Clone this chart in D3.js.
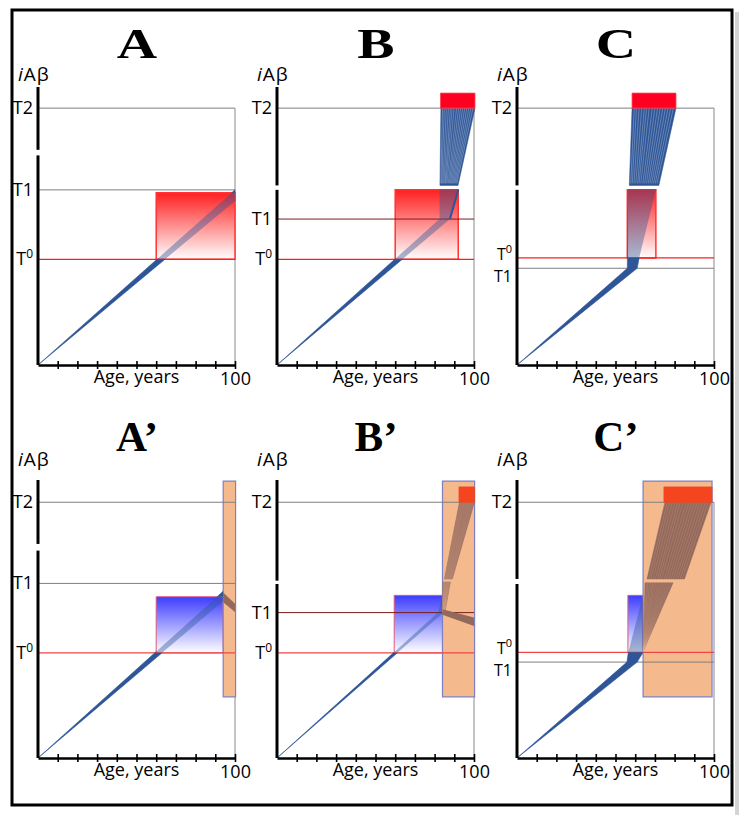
<!DOCTYPE html>
<html><head><meta charset="utf-8">
<script src="https://cdn.jsdelivr.net/npm/d3@7"></script>
<style>body{margin:0;background:#fff} svg{display:block}</style>
</head><body>
<script>
// ---------------- data ----------------
const panelLabels = ["A","B","C","A’","B’","C’"];
const thresholdT0 = [38, 38, 38.5, 37.8, 37.8, 38];
const thresholdT1 = [63, 52.5, 34.8, 62.8, 52.3, 34.5];
const thresholdT2 = [92.4, 92.4, 92.4, 92, 92, 92];
const axisBreak = [[75.4,77.4],[63,64.6],[63,64.6],[74.6,77],[62.6,63.8],[62.6,64.4]];
const tickAges = [10,20,30,40,50,60,70,80,90,100];
// trajectory band edges, [age, iAβ]
const bandFast = [
  [[0,0],[100,63]],
  [[0,0],[82.5,52.5],[82.5,63]],
  [[0,0],[56,34.8],[56.3,63]],
  [[0,0],[94,60]],
  [[0,0],[81.7,52.3],[84,58.5]],
  [[0,0],[55.8,34.5],[56.5,38],[64,58.5]]
];
const bandSlow = [
  [[0,0],[100,59]],
  [[0,0],[87.8,52.5],[92,63]],
  [[0,0],[61,34.8],[62,38.5],[70.5,63]],
  [[0,0],[94,56.5]],
  [[0,0],[84.5,52.3]],
  [[0,0],[61,34.5],[64,38],[64,58.5]]
];
// zone box [age0, age1, v0, v1]
const zoneBox = [[60,100,38,62],[60,92,38,63],[56,70.5,38.5,63],[60,94,37.8,58],[59.5,84,37.8,58.5],[56.3,64,38,58.5]];
// T2-reached boxes
const t2Box = [null,[83,100.5,92.4,97.8],[58.4,80.7,92.4,97.8],null,[92.4,100.3,92,97.5],[74.6,99,92,97.5]];
// treatment windows
const treatBox = [null,null,null,[94,100.3,22,99.6],[84,100.3,22,99.6],[64,99,22,99.6]];
// fans: panel, bottom v, bottom ages, top v, top ages
const fans = [
  {p:1, v0:64.6, a0:[82.7,91.9], v1:92.4, a1:[83.2,100.5]},
  {p:2, v0:64.6, a0:[57,72], v1:92.4, a1:[58.4,80.7]},
  {p:4, v0:52.3, a0:[84,85.2], v1:63.3, a1:[84.2,88]},
  {p:4, v0:64.4, a0:[85,89], v1:92, a1:[92.6,100.2]},
  {p:5, v0:38.3, a0:[64,64], v1:63, a1:[65,79.2]},
  {p:5, v0:64.4, a0:[66,85], v1:92, a1:[75.1,98.5]}
];
// declining branch under treatment
const declineBand = [
  {p:3, a:[94,100], hi:[59.5,55.5], lo:[56,52.5]},
  {p:4, a:[84,100], hi:[53.5,50.5], lo:[51.5,47.5]}
];
const stripeFrac = [0.05,0.1,0.16,0.22,0.28,0.33,0.39,0.46,0.52,0.58,0.64,0.7,0.76,0.82,0.88,0.94];

// ---------------- layout / style ----------------
const W=744,H=815;
const colX=[38,277,517], rowTop=[87,480];
const PW=197, PH=278;
const BLUE="#2d5597";
const svg=d3.select("body").append("svg").attr("width",W).attr("height",H);
const defs=svg.append("defs");
function grad(id,c){
  const g=defs.append("linearGradient").attr("id",id).attr("x1",0).attr("y1",0).attr("x2",0).attr("y2",1);
  g.append("stop").attr("offset",0).attr("stop-color",c);
  g.append("stop").attr("offset",1).attr("stop-color","#fff");
}
grad("gRed","#ff1f1f"); grad("gBlue","#3d3dff");

svg.append("line").attr("x1",737).attr("x2",737).attr("y1",12).attr("y2",815).attr("stroke","#d4d4d4").attr("stroke-width",4);
svg.append("rect").attr("x",12).attr("y",10).attr("width",720).attr("height",795)
  .attr("fill","none").attr("stroke","#000").attr("stroke-width",3);

const FONT="'Open Sans', sans-serif";

panelLabels.forEach((lab,i)=>{
  const col=i%3,row=Math.floor(i/3);
  const x=d3.scaleLinear([0,100],[0,PW]);
  const y=d3.scaleLinear([0,100],[PH,0]);
  const g=svg.append("g").attr("transform",`translate(${colX[col]},${rowTop[row]})`);
  const line=d3.line().x(d=>x(d[0])).y(d=>y(d[1]));
  const rectD=b=>`M${x(b[0])},${y(b[3])}H${x(b[1])}V${y(b[2])}H${x(b[0])}Z`;

  // title
  svg.append("text").attr("text-anchor","middle")
    .attr("font-family","'Liberation Serif', serif").attr("font-weight","bold").attr("font-size",43)
    .attr("transform", row===0 ? `translate(${colX[col]+99},58) scale(1.3,1)` : `translate(${colX[col]+99},451)`)
    .text(lab);

  // y label
  const yl=svg.append("text").attr("x",colX[col]-20).attr("y",rowTop[row]-(row===0?6:14))
    .attr("font-family",FONT).attr("font-size",19).attr("letter-spacing",1);
  yl.append("tspan").attr("font-style","italic").text("i");
  yl.append("tspan").text("Aβ");

  // right vertical frame line
  g.append("line").attr("x1",x(100)).attr("x2",x(100)).attr("y1",y(thresholdT2[i])).attr("y2",PH)
    .attr("stroke","#8a8a8a").attr("stroke-width",1);

  // zone box
  const zb=zoneBox[i];
  g.append("path").attr("d",rectD(zb)).attr("fill",row===0?"url(#gRed)":"url(#gBlue)")
    .attr("stroke",row===0?"#ff3434":"#e0587a").attr("stroke-width",row===0?1.5:1);

  // treatment window
  if(treatBox[i]){
    g.append("path").attr("d",rectD(treatBox[i])).attr("fill","#f5b98e")
      .attr("stroke","#7f7fc2").attr("stroke-width",1.2);
  }

  // threshold lines
  const t1col=(col===1)?"#7a1c1c":"#7f7f7f";
  g.append("line").attr("x1",0).attr("x2",x(100)).attr("y1",y(thresholdT1[i])).attr("y2",y(thresholdT1[i]))
    .attr("stroke",t1col).attr("stroke-width",1);
  g.append("line").attr("x1",0).attr("x2",x(100)).attr("y1",y(thresholdT0[i])).attr("y2",y(thresholdT0[i]))
    .attr("stroke",row===0?"#ff1c1c":"#ee4646").attr("stroke-width",1.2);
  g.append("line").attr("x1",0).attr("x2",x(100)).attr("y1",y(thresholdT2[i])).attr("y2",y(thresholdT2[i]))
    .attr("stroke","#7f7f7f").attr("stroke-width",1);

  // clip paths
  let outD=`M-20,-20H${PW+20}V${PH}H-20Z`+rectD(zb);
  if(treatBox[i]) outD+=rectD(treatBox[i]);
  defs.append("clipPath").attr("id","out"+i).append("path").attr("d",outD).attr("clip-rule","evenodd");
  defs.append("clipPath").attr("id","in"+i).append("path").attr("d",rectD(zb));

  // trajectory band
  const bandPts=bandFast[i].concat(bandSlow[i].slice().reverse());
  g.append("path").attr("d",line(bandPts)+"Z").attr("fill",BLUE).attr("stroke",BLUE).attr("stroke-width",0.6)
    .attr("clip-path",`url(#out${i})`);
  g.append("path").attr("d",line(bandPts)+"Z").attr("fill",BLUE).attr("fill-opacity",0.42)
    .attr("clip-path",`url(#in${i})`);
  if(col===1 && row===0){
    const s=bandSlow[i];
    g.append("path").attr("d",line(s.slice(s.length-2))).attr("stroke",BLUE).attr("stroke-width",2).attr("fill","none");
  }

  // fans
  fans.filter(f=>f.p===i).forEach(f=>{
    const pts=[[f.a0[0],f.v0],[f.a1[0],f.v1],[f.a1[1],f.v1],[f.a0[1],f.v0]];
    const fc=row===0?BLUE:"#93695c";
    g.append("path").attr("d",line(pts)+"Z").attr("fill",fc).attr("stroke",fc).attr("stroke-width",0.5);
    const lerp=(a,t)=>a[0]+(a[1]-a[0])*t;
    g.selectAll(null).data(stripeFrac).join("line")
      .attr("x1",t=>x(lerp(f.a0,t))).attr("y1",y(f.v0)+(row===0?-2:0))
      .attr("x2",t=>x(lerp(f.a1,t))).attr("y2",y(f.v1))
      .attr("stroke",row===0?"#ffffff":"#e2ad8e").attr("stroke-width",0.5).attr("stroke-opacity",row===0?0.55:0.45);
  });

  // declining branch
  declineBand.filter(d=>d.p===i).forEach(d=>{
    const pts=[[d.a[0],d.hi[0]],[d.a[1],d.hi[1]],[d.a[1],d.lo[1]],[d.a[0],d.lo[0]]];
    g.append("path").attr("d",line(pts)+"Z").attr("fill","#93695c");
  });

  // T2 box
  if(t2Box[i]){
    g.append("path").attr("d",rectD(t2Box[i])).attr("fill",row===0?"#ff0020":"#f4451f")
      .attr("stroke",row===0?"#ff4050":"#f4451f").attr("stroke-width",0.8);
  }

  // y axis with break
  const br=axisBreak[i];
  g.append("line").attr("x1",0).attr("x2",0).attr("y1",0).attr("y2",y(br[1])).attr("stroke","#000").attr("stroke-width",3);
  g.append("line").attr("x1",0).attr("x2",0).attr("y1",y(br[0])).attr("y2",PH).attr("stroke","#000").attr("stroke-width",3);

  // x axis
  const ax=d3.axisBottom(x).tickValues(tickAges).tickSize(5).tickSizeOuter(0).tickFormat(d=>d===100?"100":"");
  const axg=g.append("g").attr("transform",`translate(0,${PH})`).call(ax);
  axg.select(".domain").attr("stroke","#000").attr("stroke-width",2.5);
  axg.selectAll(".tick line").attr("y1",-4).attr("y2",4).attr("stroke","#000").attr("stroke-width",1.6);
  axg.selectAll(".tick text").attr("font-family",FONT).attr("font-size",18).attr("fill","#000")
    .attr("dy",null).attr("y",20);
  g.append("text").attr("x",x(50)).attr("y",PH+18).attr("text-anchor","middle")
    .attr("font-family",FONT).attr("font-size",18).text("Age, years");

  // threshold labels (close pair in column C is set tighter)
  const tight=(col===2);
  const fs=tight?16:18;
  const sh0=tight?-4:0, sh1=tight?8:0;
  const lt=(v,dy)=>g.append("text").attr("x",-5).attr("y",y(v)+6+dy).attr("text-anchor","end")
    .attr("font-family",FONT).attr("font-size",fs);
  lt(thresholdT2[i],0).attr("font-size",18).text("T2");
  lt(thresholdT1[i],sh1).text("T1");
  const l0=lt(thresholdT0[i],sh0);
  l0.append("tspan").text("T");
  l0.append("tspan").attr("font-size",tight?11:12).attr("dy",-7).text("0");
});
</script>
</body></html>
